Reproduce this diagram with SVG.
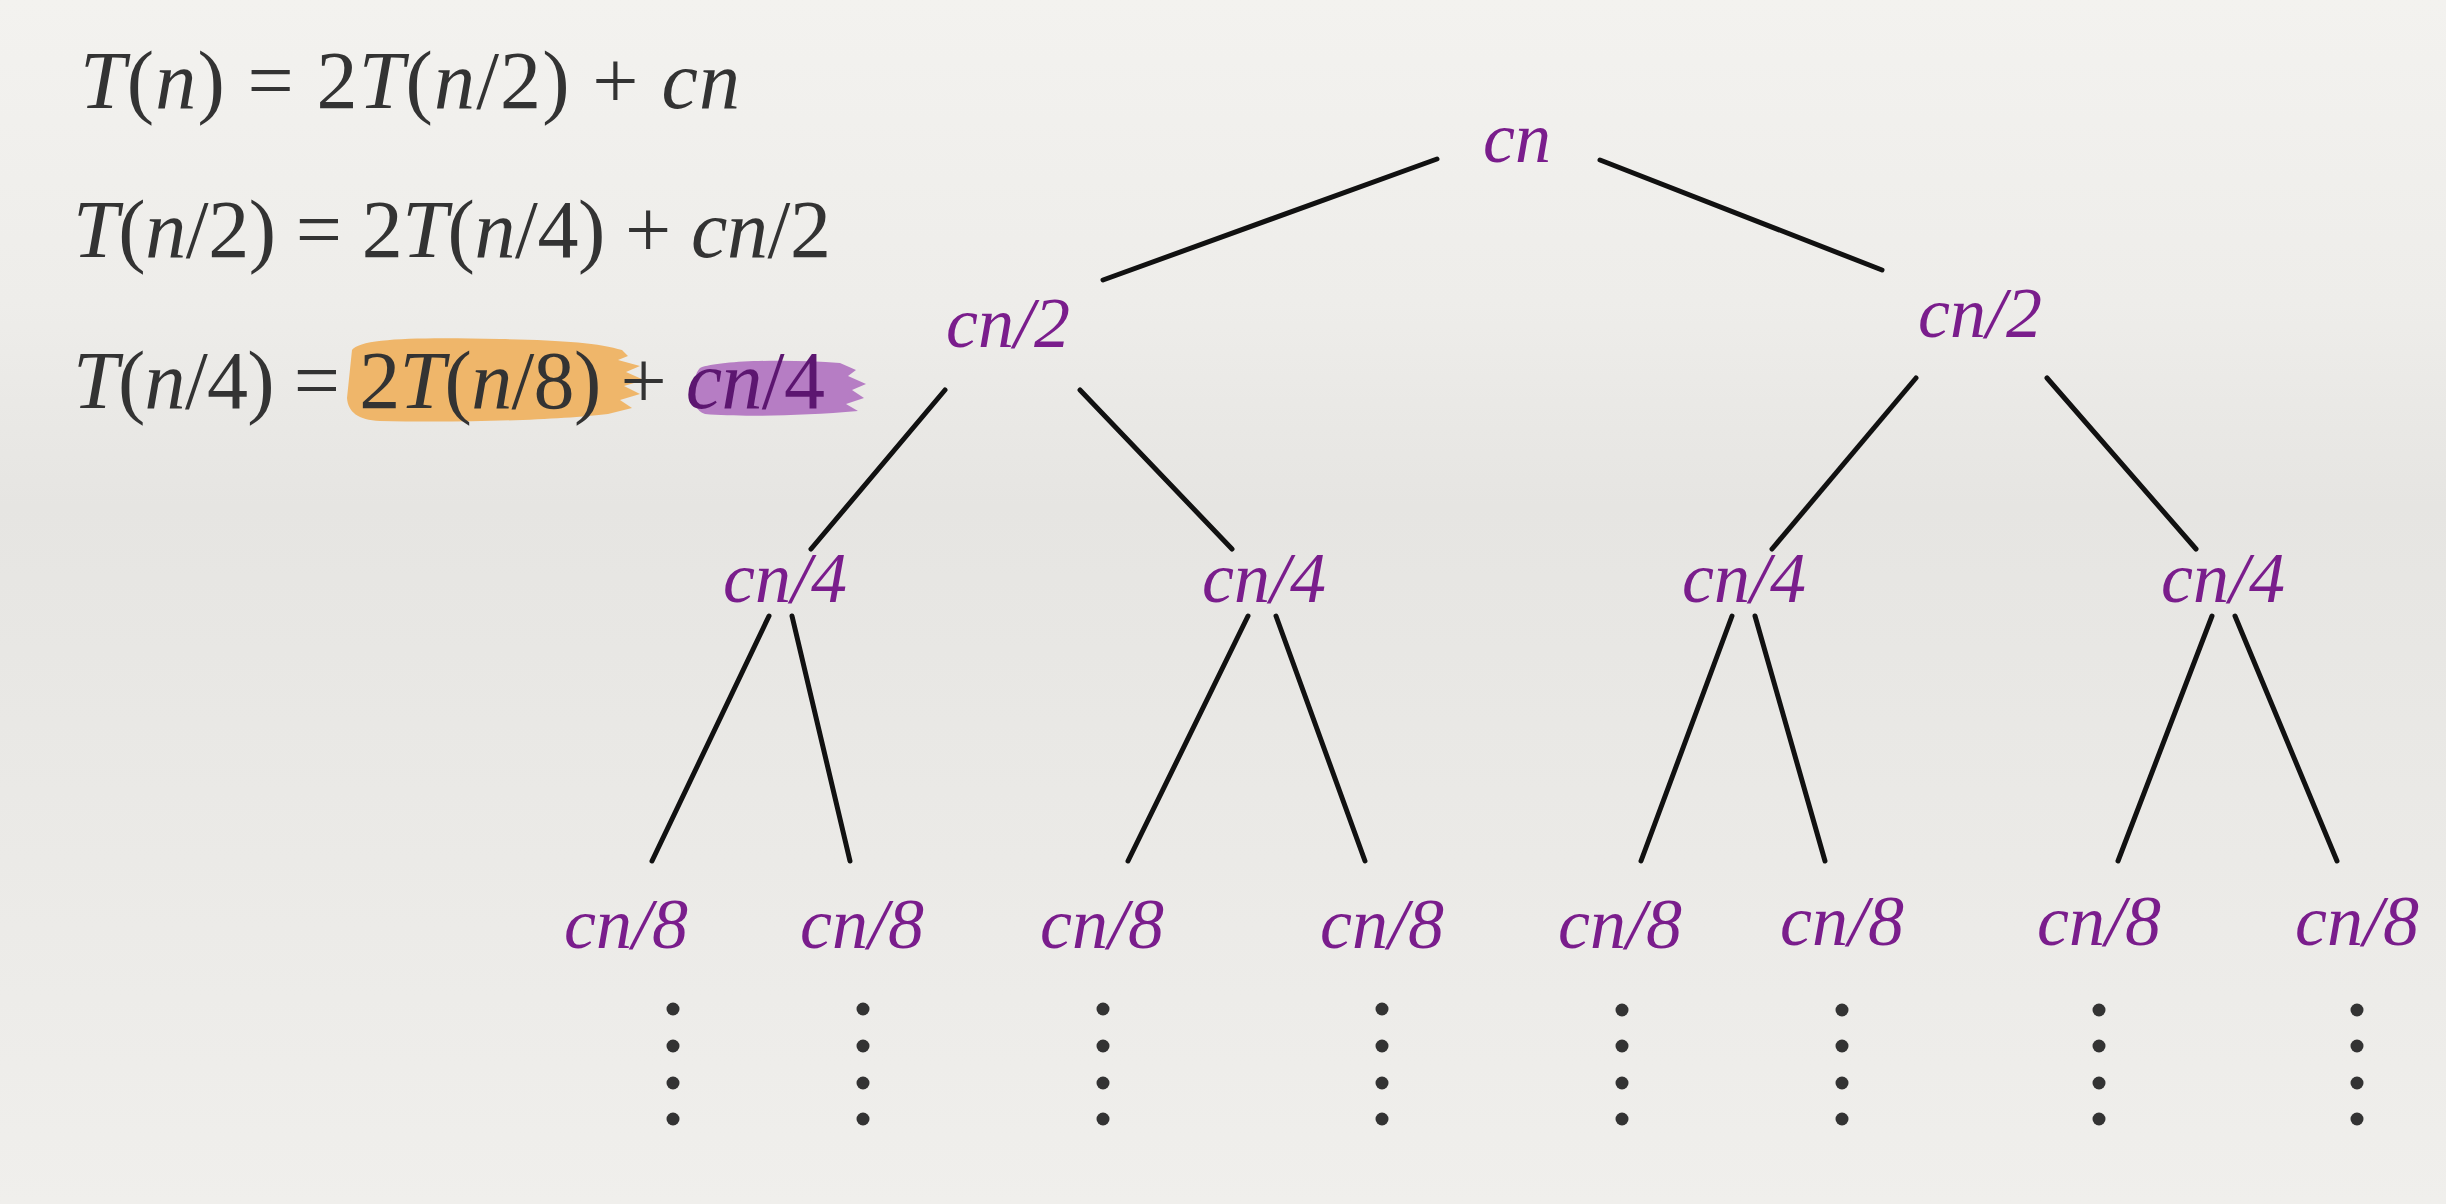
<svg xmlns="http://www.w3.org/2000/svg" width="2446" height="1204" viewBox="0 0 2446 1204">
<defs>
<linearGradient id="bg" x1="0" y1="0" x2="0" y2="1">
<stop offset="0" stop-color="#f3f2ef"/>
<stop offset="0.25" stop-color="#eeedea"/>
<stop offset="0.42" stop-color="#e6e5e2"/>
<stop offset="0.6" stop-color="#e9e8e5"/>
<stop offset="1" stop-color="#f0efec"/>
</linearGradient>
<style>
.eq{font-family:"Liberation Serif","Times New Roman",serif;font-size:82px;fill:#333333}
.i{font-style:italic}
.node{font-family:"Liberation Serif","Times New Roman",serif;font-style:italic;font-size:72px;fill:#7a1d8c;text-anchor:middle}
.edge{stroke:#111;stroke-width:5;stroke-linecap:round;fill:none}
.dot{fill:#333}
</style>
</defs>
<rect width="2446" height="1204" fill="url(#bg)"/>

<g id="equations">
<path d="M352 350 C360 338 420 337 500 339 C560 340 600 343 622 350 L628 356 L618 360 L640 366 L626 372 L644 380 L624 386 L640 394 L620 400 L632 408 L608 414 C560 420 460 423 380 421 C358 420 348 412 347 398 Z" fill="#efb66a"/>
<path d="M700 368 C720 360 790 359 840 363 L856 370 L848 376 L866 384 L852 390 L864 398 L846 404 L858 411 C800 416 740 417 705 414 C694 410 692 398 694 384 C695 376 697 371 700 368 Z" fill="#b67dc4"/>
<text class="eq" x="80" y="108" textLength="660" lengthAdjust="spacing"><tspan class="i">T</tspan>(<tspan class="i">n</tspan>) = 2<tspan class="i">T</tspan>(<tspan class="i">n</tspan>/2) + <tspan class="i">cn</tspan></text>
<text class="eq" x="73" y="257" textLength="758" lengthAdjust="spacing"><tspan class="i">T</tspan>(<tspan class="i">n</tspan>/2) = 2<tspan class="i">T</tspan>(<tspan class="i">n</tspan>/4) + <tspan class="i">cn</tspan>/2</text>
<text class="eq" x="73" y="408" textLength="752" lengthAdjust="spacing"><tspan class="i">T</tspan>(<tspan class="i">n</tspan>/4) = 2<tspan class="i">T</tspan>(<tspan class="i">n</tspan>/8) + <tspan class="i" fill="#5c1670">cn</tspan><tspan fill="#5c1670">/4</tspan></text>
</g>

<g id="connectors">
<line class="edge" x1="1437" y1="159" x2="1103" y2="280"/>
<line class="edge" x1="1600" y1="160" x2="1882" y2="270"/>
<line class="edge" x1="945" y1="390" x2="811" y2="549"/>
<line class="edge" x1="1080" y1="390" x2="1232" y2="549"/>
<line class="edge" x1="1916" y1="378" x2="1772" y2="549"/>
<line class="edge" x1="2047" y1="378" x2="2196" y2="549"/>
<line class="edge" x1="769" y1="616" x2="652" y2="861"/>
<line class="edge" x1="792" y1="616" x2="850" y2="861"/>
<line class="edge" x1="1248" y1="616" x2="1128" y2="861"/>
<line class="edge" x1="1276" y1="616" x2="1365" y2="861"/>
<line class="edge" x1="1732" y1="616" x2="1641" y2="861"/>
<line class="edge" x1="1755" y1="616" x2="1825" y2="861"/>
<line class="edge" x1="2212" y1="616" x2="2118" y2="861"/>
<line class="edge" x1="2235" y1="616" x2="2337" y2="861"/>
</g>

<g id="n0"><text class="node" x="1517" y="162">cn</text></g>
<g id="n1"><text class="node" x="1008" y="347">cn/2</text></g>
<g id="n2"><text class="node" x="1980" y="337">cn/2</text></g>
<g id="n3"><text class="node" x="785" y="602">cn/4</text></g>
<g id="n4"><text class="node" x="1264" y="602">cn/4</text></g>
<g id="n5"><text class="node" x="1744" y="602">cn/4</text></g>
<g id="n6"><text class="node" x="2223" y="602">cn/4</text></g>
<g id="n7"><text class="node" x="626" y="948">cn/8</text></g>
<g id="n8"><text class="node" x="862" y="948">cn/8</text></g>
<g id="n9"><text class="node" x="1102" y="948">cn/8</text></g>
<g id="n10"><text class="node" x="1382" y="948">cn/8</text></g>
<g id="n11"><text class="node" x="1620" y="948">cn/8</text></g>
<g id="n12"><text class="node" x="1842" y="945">cn/8</text></g>
<g id="n13"><text class="node" x="2099" y="945">cn/8</text></g>
<g id="n14"><text class="node" x="2357" y="945">cn/8</text></g>

<g id="dots">
<g id="d1"><circle class="dot" cx="673" cy="1009" r="6.5"/><circle class="dot" cx="673" cy="1046" r="6.5"/><circle class="dot" cx="673" cy="1083" r="6.5"/><circle class="dot" cx="673" cy="1119" r="6.5"/></g>
<g id="d2"><circle class="dot" cx="863" cy="1009" r="6.5"/><circle class="dot" cx="863" cy="1046" r="6.5"/><circle class="dot" cx="863" cy="1083" r="6.5"/><circle class="dot" cx="863" cy="1119" r="6.5"/></g>
<g id="d3"><circle class="dot" cx="1103" cy="1009" r="6.5"/><circle class="dot" cx="1103" cy="1046" r="6.5"/><circle class="dot" cx="1103" cy="1083" r="6.5"/><circle class="dot" cx="1103" cy="1119" r="6.5"/></g>
<g id="d4"><circle class="dot" cx="1382" cy="1009" r="6.5"/><circle class="dot" cx="1382" cy="1046" r="6.5"/><circle class="dot" cx="1382" cy="1083" r="6.5"/><circle class="dot" cx="1382" cy="1119" r="6.5"/></g>
<g id="d5"><circle class="dot" cx="1622" cy="1010" r="6.5"/><circle class="dot" cx="1622" cy="1046" r="6.5"/><circle class="dot" cx="1622" cy="1083" r="6.5"/><circle class="dot" cx="1622" cy="1119" r="6.5"/></g>
<g id="d6"><circle class="dot" cx="1842" cy="1010" r="6.5"/><circle class="dot" cx="1842" cy="1046" r="6.5"/><circle class="dot" cx="1842" cy="1083" r="6.5"/><circle class="dot" cx="1842" cy="1119" r="6.5"/></g>
<g id="d7"><circle class="dot" cx="2099" cy="1010" r="6.5"/><circle class="dot" cx="2099" cy="1046" r="6.5"/><circle class="dot" cx="2099" cy="1083" r="6.5"/><circle class="dot" cx="2099" cy="1119" r="6.5"/></g>
<g id="d8"><circle class="dot" cx="2357" cy="1010" r="6.5"/><circle class="dot" cx="2357" cy="1046" r="6.5"/><circle class="dot" cx="2357" cy="1083" r="6.5"/><circle class="dot" cx="2357" cy="1119" r="6.5"/></g>
</g>
</svg>
